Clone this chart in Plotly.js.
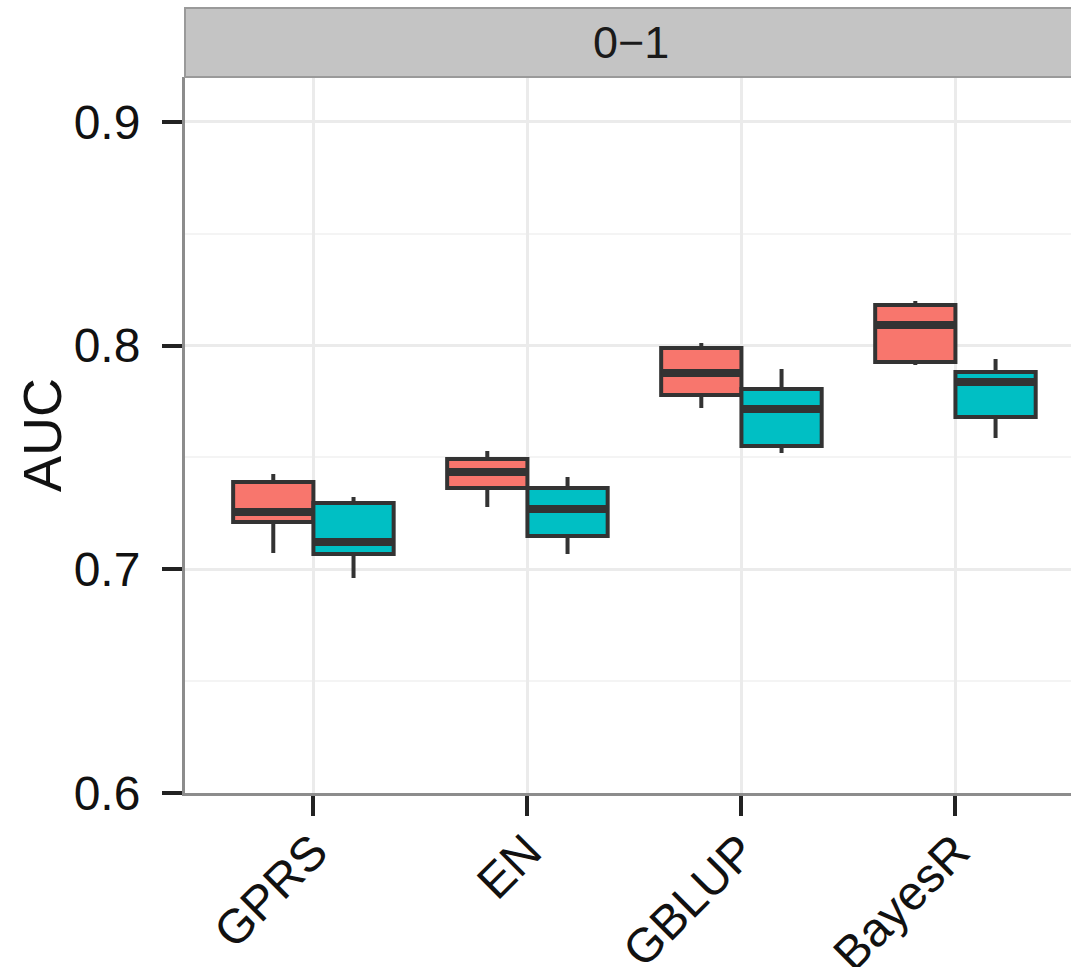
<!DOCTYPE html>
<html>
<head>
<meta charset="utf-8">
<script src="https://cdn.plot.ly/plotly-3.0.1.min.js"></script>
<style>html,body{margin:0;padding:0;background:#fff;}#chart{width:1071px;height:967px;}</style>
</head>
<body>
<div id="chart"></div>
<script>
// ---- data ----
const categories = ['GPRS', 'EN', 'GBLUP', 'BayesR'];
const stripLabel = '0\u22121';
const yTickVals = [0.6, 0.7, 0.8, 0.9];
const yTickText = ['0.6', '0.7', '0.8', '0.9'];

// series 1 (red)
const redLower  = [0.7073, 0.7279, 0.7721, 0.7914];
const redQ1     = [0.7212, 0.7364, 0.7779, 0.7927];
const redMedian = [0.7256, 0.7435, 0.7878, 0.8092];
const redQ3     = [0.7390, 0.7493, 0.7990, 0.8182];
const redUpper  = [0.7426, 0.7529, 0.8012, 0.8200];

// series 2 (teal)
const tealLower  = [0.6961, 0.7069, 0.7520, 0.7587];
const tealQ1     = [0.7069, 0.7149, 0.7551, 0.7681];
const tealMedian = [0.7122, 0.7270, 0.7717, 0.7838];
const tealQ3     = [0.7297, 0.7364, 0.7806, 0.7882];
const tealUpper  = [0.7323, 0.7413, 0.7896, 0.7940];

const RED = '#F8766D', TEAL = '#00BFC4', INK = '#333333';

function boxTrace(name, lo, q1, med, q3, hi, fill, grp) {
  return {
    type: 'box', name: name, x: categories,
    lowerfence: lo, q1: q1, median: med, q3: q3, upperfence: hi,
    fillcolor: fill, line: {color: INK, width: 4},
    whiskerwidth: 0, boxpoints: false,
    alignmentgroup: 'g', offsetgroup: grp, showlegend: false
  };
}
function medianTrace(med, grp) {
  return {
    type: 'box', x: categories,
    lowerfence: med, q1: med, median: med, q3: med, upperfence: med,
    fillcolor: 'rgba(0,0,0,0)', line: {color: INK, width: 8},
    whiskerwidth: 0, boxpoints: false, hoverinfo: 'skip',
    alignmentgroup: 'g', offsetgroup: grp, showlegend: false
  };
}

const data = [
  boxTrace('red', redLower, redQ1, redMedian, redQ3, redUpper, RED, 'A'),
  boxTrace('teal', tealLower, tealQ1, tealMedian, tealQ3, tealUpper, TEAL, 'B'),
  medianTrace(redMedian, 'A'),
  medianTrace(tealMedian, 'B')
];

const FONT = 'Liberation Sans, Arial, Helvetica, sans-serif';
const plotTop = 77, plotBottom = 793;
const stripH = 69 / (plotBottom - plotTop);

const layout = {
  width: 1071, height: 967,
  margin: {l: 185, r: 0, t: plotTop, b: 967 - plotBottom, pad: 0},
  paper_bgcolor: '#ffffff', plot_bgcolor: '#ffffff',
  boxmode: 'group', boxgap: 0.25, boxgroupgap: 0,
  showlegend: false,
  font: {family: FONT, color: '#111111'},
  xaxis: {
    type: 'category', categoryorder: 'array', categoryarray: categories,
    range: [-0.6, 3.54], fixedrange: true,
    showgrid: true, gridcolor: '#EBEBEB', gridwidth: 3,
    showline: true, linecolor: '#8C8C8C', linewidth: 3,
    ticks: 'outside', ticklen: 20, tickwidth: 4, tickcolor: '#222222',
    tickangle: -45, tickfont: {size: 48, family: FONT, color: '#111111'},
    ticklabelstandoff: -12,
    zeroline: false
  },
  yaxis: {
    range: [0.6, 0.9201], fixedrange: true,
    tickvals: yTickVals, ticktext: yTickText,
    showgrid: true, gridcolor: '#EBEBEB', gridwidth: 3,
    minor: {dtick: 0.05, tick0: 0.6, showgrid: true, gridcolor: '#F4F4F4', gridwidth: 2, ticks: ''},
    showline: true, linecolor: '#8C8C8C', linewidth: 3,
    ticks: 'outside', ticklen: 20, tickwidth: 4, tickcolor: '#222222',
    tickfont: {size: 48, family: FONT, color: '#111111'},
    ticklabelstandoff: 12,
    zeroline: false
  },
  shapes: [{
    type: 'rect', xref: 'paper', yref: 'paper',
    x0: 0, x1: 1.01, y0: 1, y1: 1 + stripH,
    fillcolor: '#C4C4C4', line: {color: '#9A9A9A', width: 2}, layer: 'above'
  }],
  annotations: [
    {text: stripLabel, xref: 'paper', yref: 'paper', x: (631 - 185) / 886, y: 1 + stripH / 2,
     xanchor: 'center', yanchor: 'middle', showarrow: false,
     font: {size: 45, family: FONT, color: '#1A1A1A'}},
    {text: 'AUC', xref: 'paper', yref: 'paper', x: (42 - 185) / 886, y: 0.5,
     xanchor: 'center', yanchor: 'middle', textangle: -90, showarrow: false,
     font: {size: 54, family: FONT, color: '#111111'}}
  ]
};

Plotly.newPlot('chart', data, layout, {staticPlot: true, displayModeBar: false});
</script>
</body>
</html>
